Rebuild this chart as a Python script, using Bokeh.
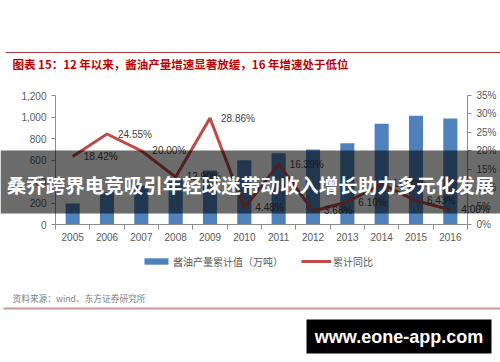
from bokeh.plotting import figure
from bokeh.models import (Range1d, LinearAxis, FixedTicker, NumeralTickFormatter,
                          PrintfTickFormatter, ColumnDataSource, Label, BoxAnnotation,
                          Legend, LegendItem)
from bokeh.core.properties import value
from bokeh.embed import file_html
from bokeh.resources import INLINE

# ---------------- data ----------------
years = ["2005", "2006", "2007", "2008", "2009", "2010",
         "2011", "2012", "2013", "2014", "2015", "2016"]
output = [195, 300, 360, 420, 502, 597, 662, 698, 756, 937, 1011, 986]
growth = [18.42, 24.55, 20.00, 12.90, 28.86, 4.48, 16.39, 3.68, 6.10, 11.00, 6.43, 4.00]
left_ticks = [0, 200, 400, 600, 800, 1000, 1200]
right_ticks = [0, 5, 10, 15, 20, 25, 30, 35]
title_text = "图表 15：12 年以来，酱油产量增速显著放缓，16 年增速处于低位"
source_text = "资料来源：wind、东方证券研究所"
banner_text = "桑乔跨界电竞吸引年轻球迷带动收入增长助力多元化发展"
watermark_text = "www.eone-app.com"
legend_labels = ["酱油产量累计值（万吨）", "累计同比"]

CJK = "Noto Sans CJK SC"
LAT = "Liberation Sans"
BLUE = "#4F81BD"
RED = "#BE4B48"
AX = "#8c8c8c"
TXT = "#595959"

# ---------------- page geometry (pixels) ----------------
W, H = 500, 362
PL, PR, PT, PB = 55, 467, 95, 224      # plot area inside the page
n = len(years)
cw = (PR - PL) / n                      # pixels per category
ymax, pmax = left_ticks[-1], right_ticks[-1]
ky = (PB - PT) / ymax                   # pixels per unit, left axis
kp = (PB - PT) / pmax                   # pixels per unit, right axis

idx = list(range(n))
src = ColumnDataSource(dict(x=idx, year=years, output=output, growth=growth,
                            label=[f"{g:.2f}%" for g in growth]))

p = figure(width=W, height=H, output_backend="svg", toolbar_location=None,
           x_range=Range1d(-0.5 - PL / cw, n - 0.5 + (W - PR) / cw),
           y_range=Range1d(-(H - PB) / ky, ymax + PT / ky),
           x_axis_type=None, y_axis_type=None, min_border=0)
p.extra_y_ranges = {"pct": Range1d(-(H - PB) / kp, pmax + PT / kp)}
p.outline_line_color = None
p.background_fill_color = "white"
p.border_fill_color = "white"

xaxis = LinearAxis(ticker=FixedTicker(ticks=idx, minor_ticks=[i - 0.5 for i in range(n + 1)]),
                   major_label_overrides={i: y for i, y in zip(idx, years)},
                   fixed_location=0, bounds=(-0.5, n - 0.5))
xaxis.major_tick_line_color = None
xaxis.major_tick_out = 0
xaxis.major_tick_in = 0
xaxis.minor_tick_out = 5
xaxis.minor_tick_in = 0
xaxis.minor_tick_line_color = AX
xaxis.axis_line_color = AX
xaxis.major_label_standoff = 3
xaxis.major_label_text_font = LAT
xaxis.major_label_text_font_size = "10px"
xaxis.major_label_text_color = TXT
p.add_layout(xaxis, "below")

yl = LinearAxis(ticker=FixedTicker(ticks=left_ticks), formatter=NumeralTickFormatter(format="0,0"),
                fixed_location=-0.5, bounds=(0, ymax))
yl.major_tick_out = 4
yl.major_tick_in = 0
yl.minor_tick_line_color = None
yl.axis_line_color = AX
yl.major_tick_line_color = AX
yl.major_label_standoff = 5
yl.major_label_text_font = LAT
yl.major_label_text_font_size = "10px"
yl.major_label_text_color = TXT
p.add_layout(yl, "left")

yr = LinearAxis(y_range_name="pct", ticker=FixedTicker(ticks=right_ticks),
                formatter=PrintfTickFormatter(format="%d%%"),
                fixed_location=n - 0.5, bounds=(0, pmax))
yr.major_tick_out = 4
yr.major_tick_in = 0
yr.minor_tick_line_color = None
yr.axis_line_color = AX
yr.major_tick_line_color = AX
yr.major_label_standoff = 5
yr.major_label_text_font = LAT
yr.major_label_text_font_size = "10px"
yr.major_label_text_color = TXT
p.add_layout(yr, "right")

r_bar = p.vbar(x="x", top="output", width=0.41, source=src, fill_color=BLUE, line_color=None)
r_line = p.line(x="x", y="growth", y_range_name="pct", source=src, line_color=RED, line_width=3)
p.text(x="x", y="growth", text="label", y_range_name="pct", source=src,
       x_offset=11, text_baseline="middle", text_align="left",
       text_font=value(LAT), text_font_size="10px", text_color="#404040")


def sbox(left, right, top, bottom, color, alpha=1.0):
    # page pixel coordinates (top-left origin) -> frame screen units
    return BoxAnnotation(left=left, right=right, top=H - top, bottom=H - bottom,
                         left_units="screen", right_units="screen",
                         top_units="screen", bottom_units="screen",
                         fill_color=color, fill_alpha=alpha, line_color=None)


def slabel(x, y, text, font, size, color, bold=False, align="left"):
    return Label(x=x, y=H - y, x_units="screen", y_units="screen", text=text,
                 text_font=font, text_font_size=size, text_color=color,
                 text_font_style="bold" if bold else "normal",
                 text_baseline="middle", text_align=align)


# top rule + title
p.add_layout(sbox(5, W, 51.5, 52.5, "#B03A3A"))
p.add_layout(slabel(12, 63, title_text, CJK, "11.5px", "#C00000", bold=True))

# legend
legend = Legend(items=[LegendItem(label=legend_labels[0], renderers=[r_bar]),
                       LegendItem(label=legend_labels[1], renderers=[r_line])],
                orientation="horizontal", location=(141, H - 268.5),
                glyph_width=30, glyph_height=8, label_standoff=2, spacing=18,
                padding=0, margin=0, border_line_color=None, background_fill_alpha=0,
                label_text_font=CJK, label_text_font_size="10px", label_text_color=TXT,
                label_height=13)
p.add_layout(legend)

# source + bottom rule
p.add_layout(slabel(12, 298, source_text, CJK, "8.7px", "#808080"))
p.add_layout(sbox(3, W, 307, 309, "#C9999C"))

# overlay banner
p.add_layout(sbox(0, W, 150, 213, "black", 0.58))
p.add_layout(slabel(W / 2, 184, banner_text, CJK, "19.5px", "white", bold=True, align="center"))

# watermark
p.add_layout(sbox(306, 491, 319, 353, "black"))
p.add_layout(slabel(398.5, 336, watermark_text, LAT, "18px", "white", bold=True, align="center"))

open("out.html", "w").write(file_html(p, INLINE))
